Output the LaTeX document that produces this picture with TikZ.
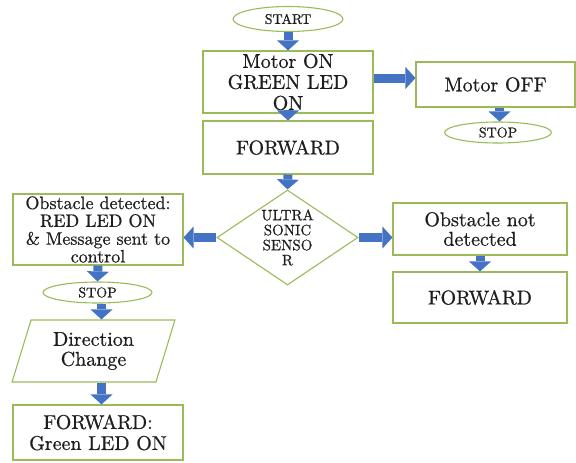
\documentclass[tikz,border=0pt]{standalone}
\usepackage{fontspec}
\newfontfamily\flowfont{lmroman10-regular.otf}[FakeBold=0.7]
\usetikzlibrary{shapes.geometric,arrows.meta}
\definecolor{boxgreen}{RGB}{155,187,89}
\definecolor{arrowblue}{RGB}{68,114,196}
\definecolor{inktext}{RGB}{30,30,30}
\begin{document}
\begin{tikzpicture}[x=1pt,y=-1pt,
	box/.style={rectangle, draw=boxgreen, line width=1.1pt, inner sep=0pt, align=center, text=inktext, font=\flowfont\fontsize{20}{21}\selectfont},
	terminal/.style={ellipse, draw=boxgreen, line width=1.1pt, inner sep=0pt, text=inktext, font=\flowfont\fontsize{14}{16}\selectfont},
	decision/.style={diamond, aspect=1.48, draw=boxgreen, line width=1.1pt, inner sep=0pt, align=center, text=inktext, font=\flowfont\fontsize{15}{15}\selectfont},
	inout/.style={trapezium, trapezium left angle=72, trapezium right angle=108, trapezium stretches=true, draw=boxgreen, line width=1.1pt, inner sep=0pt, align=center, text=inktext, font=\flowfont\fontsize{20}{20}\selectfont},
	flow/.style={draw=arrowblue, line width=9pt, -{Triangle[width=22pt,length=10pt,line width=0pt]}}]
	\useasboundingbox (0,0) rectangle (576,463);
	
	% main column
	\node[terminal, minimum width=110, minimum height=25] (start) at (288,19) {START};
	\node[box, minimum width=170, minimum height=62] (motoron) at (288,82) {Motor ON\\GREEN LED\\ON};
	\node[box, minimum width=170, minimum height=53] (fwd) at (288,147.5) {FORWARD};
	\node[decision, minimum width=141, minimum height=95] (sensor) at (287.5,237.5) {ULTRA\\SONIC\\SENSO\\R};
	
	% motor off branch
	\node[box, minimum width=159, minimum height=45] (motoroff) at (495.5,84.5) {Motor OFF};
	\node[terminal, minimum width=107, minimum height=21] (stopright) at (498,132.5) {STOP};
	
	% obstacle branch
	\node[box, minimum width=170, minimum height=71, font=\flowfont\fontsize{18}{17.8}\selectfont] (obstacle) at (98,229.5) {Obstacle detected:\\RED LED ON\\\& Message sent to\\control};
	\node[terminal, minimum width=109, minimum height=21] (stopleft) at (97.5,292.5) {STOP};
	\node[inout, minimum width=163, minimum height=62] (dirchange) at (93.5,351) {Direction\\Change};
	\node[box, minimum width=170, minimum height=55] (fwdgreen) at (98,432.5) {FORWARD:\\Green LED ON};
	
	% no obstacle branch
	\node[box, minimum width=174, minimum height=52, font=\flowfont\fontsize{20}{19.5}\selectfont] (noobstacle) at (480,229) {Obstacle not\\detected};
	\node[box, minimum width=174, minimum height=51] (fwdright) at (480,297.5) {FORWARD};
	
	\draw[flow] (start.south) -- (motoron.north);
	\draw[flow] (motoron.south) -- (fwd.north);
	\draw[flow] (fwd.south) -- (sensor.north);
	\draw[flow] ([yshift=4pt]motoron.east) -- ([yshift=4pt]motoron.east -| motoroff.west);
	\draw[flow] ([xshift=4pt]motoroff.south) -- ([xshift=4pt]motoroff.south |- stopright.north);
	\draw[flow] (sensor.west) -- (sensor.west -| obstacle.east);
	\draw[flow] (sensor.east) -- (sensor.east -| noobstacle.west);
	\draw[flow] (noobstacle.south) -- (fwdright.north);
	\draw[flow] (obstacle.south) -- (stopleft.north);
	\draw[flow] ([xshift=4pt]stopleft.south) -- ([xshift=4pt]stopleft.south |- dirchange.north);
	\draw[flow] ([xshift=4pt]stopleft.south |- dirchange.south) -- ([xshift=4pt]stopleft.south |- fwdgreen.north);
\end{tikzpicture}
\end{document}
